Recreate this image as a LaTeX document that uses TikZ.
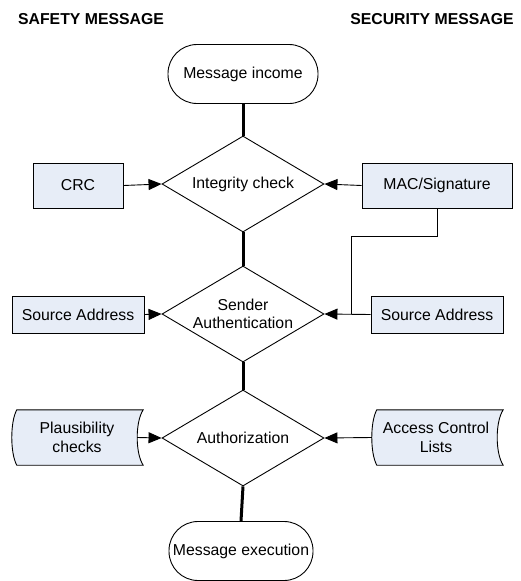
\documentclass[tikz,border=0pt]{standalone}
\usepackage{fontspec}
\setmainfont{Liberation Sans}
\usetikzlibrary{shapes.geometric,arrows.meta,backgrounds,calc}
\definecolor{boxfill}{RGB}{231,237,247}
\begin{document}
\begin{tikzpicture}[x=1pt,y=-1pt,
  every node/.style={font=\fontsize{15.8}{18.5}\selectfont},
  heading/.style={inner sep=0pt,font=\fontsize{15.8}{18.5}\selectfont\bfseries},
  terminal/.style={draw,line width=0.9pt,rounded corners=29pt,minimum height=59pt,inner sep=0pt},
  decision/.style={draw,line width=0.9pt,diamond,aspect=1.69,inner sep=0pt,minimum width=162pt,minimum height=96pt,align=center},
  databox/.style={draw,line width=0.9pt,fill=boxfill,inner sep=0pt},
  storednode/.style={inner sep=0pt,minimum width=125pt,minimum height=55pt,align=center},
  stored/.style={draw,line width=0.9pt,fill=boxfill},
  flow/.style={line width=3pt},
  feed/.style={line width=0.9pt,-{Triangle[length=13pt,width=11pt]}},
  plain/.style={line width=0.9pt}]
\useasboundingbox (0,0) rectangle (521,581);

\node[heading] (h1) at (91,19) {SAFETY MESSAGE};
\node[heading] (h2) at (432,19) {SECURITY MESSAGE};

\node[terminal,minimum width=150pt] (income) at (243,74) {Message income};
\node[decision] (integ) at (243,184) {Integrity check};
\node[decision] (sender) at (243,314) {Sender\\Authentication};
\node[decision] (auth) at (243,438) {Authorization};
\node[terminal,minimum width=144pt] (exec) at (241,551) {Message execution};

\node[databox,minimum width=90pt,minimum height=45pt] (crc) at (78,185.5) {CRC};
\node[databox,minimum width=150pt,minimum height=45pt] (mac) at (437,185.5) {MAC/Signature};
\node[databox,minimum width=132pt,minimum height=37pt] (srcL) at (78,314.5) {Source Address};
\node[databox,minimum width=132pt,minimum height=37pt] (srcR) at (437,314.5) {Source Address};

\node[storednode] (plaus) at (74.5,437.5) {\hspace*{5pt}Plausibility\\\hspace*{5pt}checks};
\node[storednode] (acl) at (434.5,437.5) {\hspace*{3pt}Access Control\\\hspace*{3pt}Lists};

\begin{scope}[on background layer]
  \foreach \n in {plaus,acl}{
    \draw[stored]
      ($(\n.north west)+(5,0)$)
        .. controls ($(\n.north west)+(-1.7,12)$) and ($(\n.south west)+(-1.7,-12)$) ..
      ($(\n.south west)+(5,0)$)
      -- ($(\n.south east)+(6,0)$)
        .. controls ($(\n.south east)+(-2,-12)$) and ($(\n.north east)+(-2,12)$) ..
      ($(\n.north east)+(6,0)$)
      -- cycle;
  }
\end{scope}

\draw[flow] (income.south) -- (integ.north);
\draw[flow] (integ.south) -- (sender.north);
\draw[flow] (sender.south) -- (auth.north);
\draw[flow] (auth.south) -- (exec.north);

\draw[feed] (crc.east) -- (integ.west);
\draw[feed] (mac.west) -- (integ.east);
\draw[feed] (srcL.east) -- (sender.west);
\draw[feed] (srcR.west) -- (sender.east);
\draw[feed] (plaus.east) -- (auth.west);
\draw[feed] (acl.west) -- (auth.east);

\coordinate (bend) at (351,236);
\draw[plain] (mac.south) |- (bend) -- (bend |- sender.east);
\end{tikzpicture}
\end{document}
